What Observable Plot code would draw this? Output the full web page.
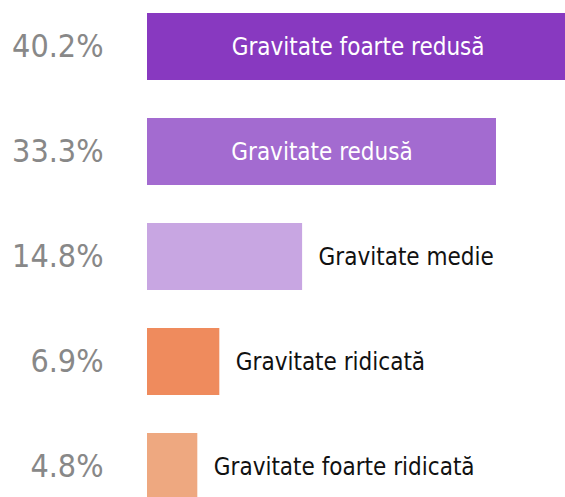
<!DOCTYPE html>
<html>
<head>
<meta charset="utf-8">
<script src="https://cdn.jsdelivr.net/npm/d3@7"></script>
<script src="https://cdn.jsdelivr.net/npm/@observablehq/plot@0.6"></script>
<style>
  html, body { margin: 0; padding: 0; background: #fff; }
  #chart svg { display: block; }
  #chart svg text { font-stretch: condensed; }
</style>
</head>
<body>
<div id="chart"></div>
<script>
const categories = ["Gravitate foarte redusă", "Gravitate redusă", "Gravitate medie", "Gravitate ridicată", "Gravitate foarte ridicată"];
const values = [40.2, 33.3, 14.8, 6.9, 4.8];
const colors = ["#8839c0", "#a36bd0", "#c8a6e2", "#ef8b5d", "#eea880"];

const data = categories.map((c, i) => ({cat: c, value: values[i], color: colors[i], label: values[i].toFixed(1) + "%"}));
const inside = data.filter(d => d.value > 20);
const outside = data.filter(d => d.value <= 20);

const font = "'DejaVu Sans Condensed', 'DejaVu Sans', sans-serif";

const chart = Plot.plot({
  width: 565,
  height: 497,
  margin: 0,
  style: {fontFamily: font, background: "#fff", overflow: "hidden"},
  x: {domain: [0, 40], range: [147, 147 + 40 * 10.48], axis: null},
  y: {domain: categories, range: [11, 503], paddingInner: 0.358, paddingOuter: 0, axis: null},
  marks: [
    Plot.barX(data, {x: "value", y: "cat", fill: d => d.color}),
    Plot.text(data, {x: 0, y: "cat", text: "label", textAnchor: "end", dx: -44, fill: "#888", fontSize: 32, fontFamily: font}),
    Plot.text(inside, {x: d => d.value / 2, y: "cat", text: "cat", textAnchor: "middle", fill: "#fff", fontSize: 24, fontFamily: font}),
    Plot.text(outside, {x: "value", y: "cat", text: "cat", textAnchor: "start", dx: 16, fill: "#111", fontSize: 24, fontFamily: font})
  ]
});
document.getElementById("chart").append(chart);
</script>
</body>
</html>
